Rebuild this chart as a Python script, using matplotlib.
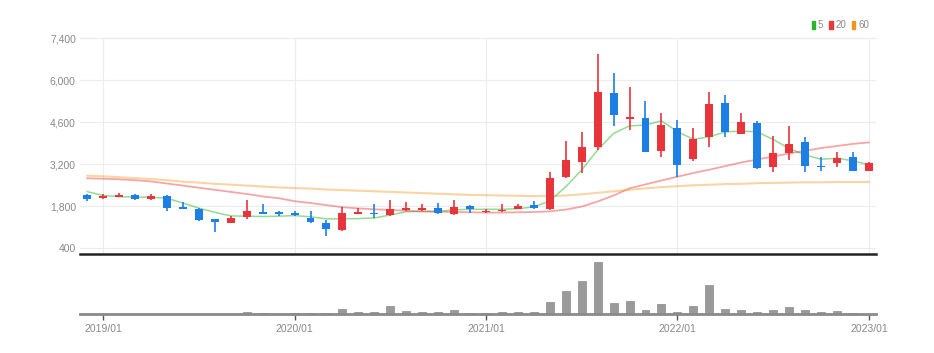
import matplotlib
matplotlib.use("Agg")
import matplotlib.pyplot as plt
from matplotlib.patches import Patch
import numpy as np

plt.rcParams['font.family'] = ['Liberation Sans', 'DejaVu Sans']

# monthly candles 2018/12 .. 2023/01
months = [f"{2018 + (11 + k) // 12}/{(11 + k) % 12 + 1:02d}" for k in range(50)]

opens = [2170, 2080, 2110, 2170, 2030, 2140, 1760, 1700, 1360, 1250,
         1450, 1610, 1590, 1570, 1390, 1230, 1000, 1540, 1580, 1500,
         1660, 1670, 1750, 1530, 1800, 1600, 1630, 1710, 1830, 1700,
         2770, 3260, 3780, 5560, 4700, 4740, 3630, 4390, 3360, 4090,
         5220, 4200, 4560, 3090, 3580, 3940, 3130, 3220, 3440, 2980]
highs = [2200, 2200, 2230, 2210, 2190, 2160, 1920, 1720, 1380, 1480,
         2000, 1860, 1620, 1620, 1640, 1330, 1780, 1720, 1860, 2000,
         1940, 1860, 1890, 2000, 1830, 1700, 1870, 1860, 1980, 2930,
         3970, 4280, 6870, 6240, 5780, 5310, 4910, 4670, 4390, 5610,
         5500, 4910, 4650, 4130, 4480, 4110, 3420, 3610, 3610, 3280]
lows = [1980, 2030, 2090, 1990, 2000, 1650, 1690, 1290, 950, 1230,
        1360, 1530, 1460, 1470, 1240, 810, 980, 1520, 1400, 1480,
        1640, 1640, 1540, 1510, 1560, 1570, 1600, 1690, 1700, 1680,
        2730, 2900, 3670, 4470, 4330, 3590, 3450, 2780, 3300, 3780,
        4090, 4190, 3020, 2950, 3340, 2950, 2980, 3110, 2960, 2960]
closes = [2020, 2150, 2180, 2030, 2140, 1730, 1700, 1330, 1260, 1410,
          1620, 1540, 1530, 1510, 1260, 1020, 1580, 1610, 1530, 1690,
          1720, 1750, 1560, 1760, 1690, 1650, 1680, 1810, 1720, 2740,
          3320, 3780, 5610, 4820, 4760, 3610, 4500, 3170, 4020, 5190,
          4280, 4590, 3060, 3580, 3860, 3130, 3090, 3410, 2980, 3240]

ma5 = [2280, 2150, 2110, 2100, 2090, 2060, 1900, 1730, 1590, 1470,
       1460, 1450, 1460, 1480, 1440, 1370, 1375, 1380, 1400, 1500,
       1610, 1620, 1620, 1670, 1690, 1690, 1690, 1710, 1770, 1970,
       2440, 3000, 3670, 4220, 4470, 4500, 4640, 4280, 4020, 4110,
       4270, 4300, 4270, 4020, 3720, 3500, 3360, 3390, 3310, 3170]
ma20 = [2723, 2710, 2690, 2660, 2620, 2550, 2480, 2410, 2340, 2270,
        2200, 2120, 2060, 1960, 1900, 1830, 1760, 1720, 1690, 1670,
        1640, 1620, 1610, 1600, 1590, 1580, 1580, 1590, 1600, 1620,
        1680, 1780, 1950, 2150, 2390, 2520, 2650, 2777, 2900, 3010,
        3130, 3250, 3350, 3450, 3550, 3640, 3730, 3800, 3870, 3920]
ma60 = [2810, 2790, 2760, 2730, 2700, 2660, 2610, 2580, 2540, 2510,
        2480, 2450, 2420, 2400, 2380, 2350, 2330, 2310, 2290, 2270,
        2250, 2230, 2210, 2190, 2170, 2160, 2150, 2140, 2130, 2130,
        2150, 2190, 2240, 2290, 2340, 2390, 2430, 2460, 2490, 2510,
        2530, 2540, 2560, 2570, 2580, 2590, 2590, 2600, 2600, 2600]

volume = [3, 3, 3, 3, 3, 4, 3, 4, 4, 5,
          20, 8, 5, 6, 8, 8, 47, 17, 20, 83,
          33, 17, 17, 37, 10, 13, 20, 17, 17, 117,
          227, 327, 517, 110, 133, 37, 97, 20, 77, 290,
          50, 37, 17, 37, 67, 37, 17, 33, 7, 5]

price_ticks = [400, 1800, 3200, 4600, 6000, 7400]
year_ticks = ['2019/01', '2020/01', '2021/01', '2022/01', '2023/01']

up_col = '#e8343b'
down_col = '#1b7fe6'
ma_cols = ['#2cb52c', '#e83a3a', '#f0961e']

x = np.arange(len(months))
o = np.array(opens); c = np.array(closes)
cols = [up_col if cc >= oo else down_col for oo, cc in zip(o, c)]

fig = plt.figure(figsize=(9.34, 3.53), dpi=100)
ax = fig.add_axes([80/934, 1-254/353, 796/934, 216/353])
axv = fig.add_axes([80/934, 1-314/353, 796/934, 56/353])

tick_idx = [months.index(t) for t in year_ticks]

# price panel
ax.vlines(x, lows, highs, colors=cols, linewidth=1.2, zorder=3)
body = np.maximum(np.abs(c - o), 45)
ax.bar(x, body, bottom=np.minimum(o, c), width=0.5, color=cols, zorder=4)
ax.plot(x, ma5, color=ma_cols[0], alpha=0.5, lw=1.1, zorder=2)
ax.plot(x, ma20, color=ma_cols[1], alpha=0.45, lw=1.3, zorder=2)
ax.plot(x, ma60, color=ma_cols[2], alpha=0.4, lw=1.5, zorder=2)

ax.set_xlim(-0.45, 49.45)
ax.set_ylim(200, 7400)
ax.set_yticks(price_ticks)
ax.set_yticklabels([f"{v:,}" for v in price_ticks])
ax.set_xticks(tick_idx)
ax.tick_params(axis='y', length=0, pad=3, labelsize=7.5, labelcolor='#888888')
ax.tick_params(axis='x', length=0, labelbottom=False)
ax.grid(True, color='#ececec', lw=0.8, zorder=0)
for s in ['left', 'right']:
    ax.spines[s].set_visible(False)
ax.spines['top'].set_color('#ececec')
ax.spines['top'].set_linewidth(0.8)
ax.spines['bottom'].set_color('#222222')
ax.spines['bottom'].set_linewidth(1.8)

# volume panel
axv.bar(x, volume, width=0.5, color='#9a9a9a', edgecolor='#8a8a8a', lw=0.5)
axv.set_xlim(-0.45, 49.45)
axv.set_ylim(0, 560)
axv.set_yticks([])
axv.set_xticks(tick_idx)
axv.set_xticklabels(year_ticks)
axv.tick_params(axis='x', length=4, width=1, color='#555555', pad=3,
                labelsize=7.5, labelcolor='#888888')
for s in ['left', 'right', 'top']:
    axv.spines[s].set_visible(False)
axv.spines['bottom'].set_color('#8a8a8a')
axv.spines['bottom'].set_linewidth(2)

handles = [Patch(color=cc) for cc in ma_cols]
fig.legend(handles, ['5', '20', '60'], loc='center right',
           bbox_to_anchor=(878/934, 1-25/353), ncol=3, frameon=False,
           handlelength=0.35, handleheight=0.9, handletextpad=0.3,
           columnspacing=0.6, fontsize=7, labelcolor='#888888')

fig.savefig('out.png', dpi=100)
